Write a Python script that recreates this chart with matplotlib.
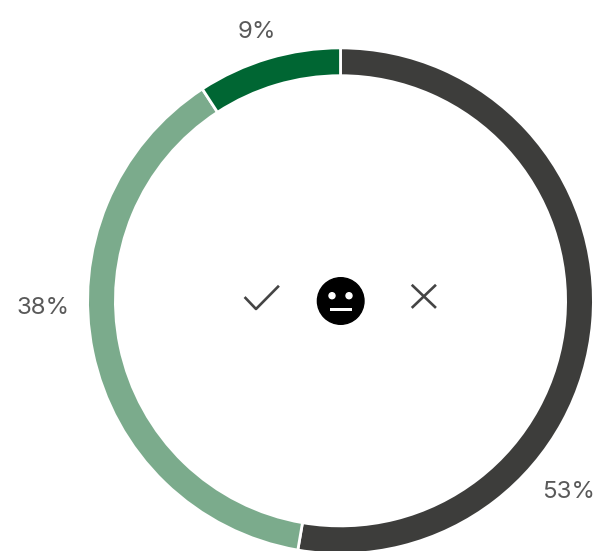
"""
Donut chart with a neutral face in the middle.
"""

import matplotlib

matplotlib.use("Agg")
import matplotlib.pyplot as plt
from matplotlib.patches import Circle, Rectangle

labels = ["53%", "38%", "9%"]
values = [52.7, 38.1, 9.2]
colors = ["#3d3d3b", "#7bab8c", "#006633"]

W, H = 595, 551
CX, CY = 340.5, 300.8
R = 252.9

plt.rcParams["font.family"] = ["Inter", "DejaVu Sans"]

fig = plt.figure(figsize=(W / 100, H / 100), dpi=100)
ax = fig.add_axes([0, 0, 1, 1])

# y axis gets flipped below, so 270 is the top and angles run clockwise
wedges, _ = ax.pie(
    values,
    colors=colors,
    startangle=270,
    counterclock=True,
    center=(CX, CY),
    radius=R,
    frame=True,
    wedgeprops=dict(width=27.8, edgecolor="white", linewidth=2),
)
ax.set_xlim(0, W)
ax.set_ylim(H, 0)
ax.set_aspect("equal")
ax.axis("off")

text_style = dict(ha="center", va="center", fontsize=17.3, color="#595959", fontweight="normal")
ax.text(257, 31.5, labels[2], **text_style)
ax.text(43.5, 307.5, labels[1], **text_style)
ax.text(569, 491.5, labels[0], **text_style)

# face
ax.add_patch(Circle((340.7, 301), 23.3, color="black"))
ax.add_patch(Circle((332, 295.7), 3, color="white"))
ax.add_patch(Circle((349, 295.7), 3, color="white"))
ax.add_patch(Rectangle((330, 307.6), 21.7, 3.4, color="white", lw=0))

# check and cross
ax.plot([245.5, 256, 278], [298, 309, 286.7], color="#444444", lw=1.9)
ax.plot([412.7, 435], [285.7, 307], color="#444444", lw=1.9)
ax.plot([435, 412.7], [285.7, 307], color="#444444", lw=1.9)

fig.savefig("out.png", dpi=100)
